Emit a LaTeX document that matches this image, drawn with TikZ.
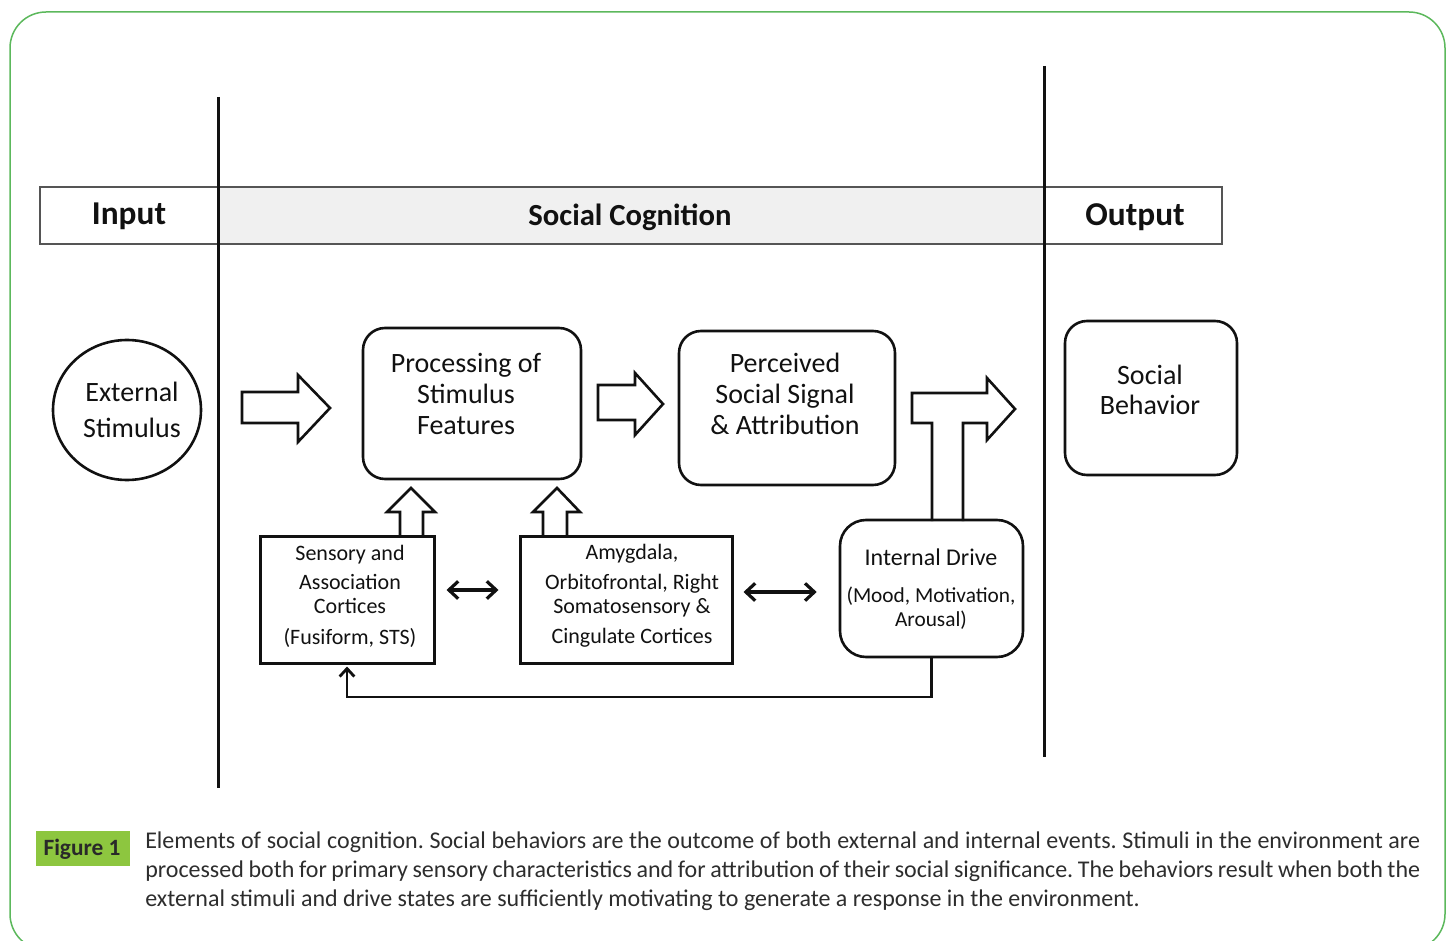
\documentclass[tikz,border=0pt]{standalone}
\usepackage{fontspec}
\setmainfont{Carlito}
\usetikzlibrary{arrows.meta,shapes.geometric,calc}
\newdimen\pxu \pxu=0.75pt
\definecolor{ink}{RGB}{17,17,17}
\definecolor{bordergreen}{RGB}{92,184,92}
\definecolor{figgreen}{RGB}{141,198,63}
\definecolor{headgray}{RGB}{240,240,240}
\definecolor{captext}{RGB}{45,45,45}
\definecolor{bandline}{RGB}{85,85,85}
\frenchspacing
\begin{document}
\begin{tikzpicture}[x=0.75pt,y=-0.75pt,
  rbox/.style={draw=ink, line width=2.6\pxu, rounded corners=22\pxu, inner sep=0pt},
  sbox/.style={draw=ink, line width=3\pxu, inner sep=0pt},
  txt/.style={align=center, font=\fontsize{21}{23}\selectfont, text=ink, inner sep=0pt},
  stxt/.style={align=center, font=\fontsize{16.5}{18}\selectfont, text=ink, inner sep=0pt},
  barrow/.style={draw=ink, line width=2.6\pxu, fill=white, line join=miter},
  oarrow/.style={draw=ink, line width=2.6\pxu, line join=miter},
  darrow/.style={ink, line width=3.2\pxu, {Straight Barb[length=7pt,width=13pt]}-{Straight Barb[length=7pt,width=13pt]}},
  fbarrow/.style={ink, line width=2.8\pxu, -{Straight Barb[length=6pt,width=11pt]}},
  vline/.style={ink, line width=3\pxu},
  hdr/.style={font=\fontsize{23}{25}\selectfont\bfseries, text=ink, inner sep=0pt},
  hdrb/.style={font=\fontsize{25}{27}\selectfont\bfseries, text=ink, inner sep=0pt},
  captxt/.style={font=\fontsize{18}{21}\selectfont, text=captext, inner sep=0pt, anchor=west}
]
\useasboundingbox (0,0) rectangle (1449,941);
\clip (0,0) rectangle (1449,941);
% outer frame
\draw[draw=bordergreen, line width=1.5\pxu, rounded corners=36\pxu] (10,12) rectangle (1445,950);

% header band
\fill[headgray] (218,187) rectangle (1044,244);
\draw[bandline, line width=1.6\pxu] (40,187) rectangle (1222,244);
\node[hdrb] (hin) at (129,216) {Input};
\node[hdr] (hsc) at (630,217) {Social Cognition};
\node[hdrb] (hout) at (1135,217) {Output};

% vertical separators
\coordinate (v1t) at (218,97);
\coordinate (v1b) at (218,788);
\coordinate (v2t) at (1044,66);
\coordinate (v2b) at (1044,757);
\draw[vline] (v1t) -- (v1b);
\draw[vline] (v2t) -- (v2b);

% external stimulus
\node[draw=ink, line width=2.6\pxu, ellipse, minimum width=148\pxu, minimum height=140\pxu, inner sep=0pt] (ext) at (127,410) {};
\node[align=center, font=\fontsize{21}{27}\selectfont, text=ink, inner sep=0pt] (extt) at (132,410) {External\\Stimulus};

% processing
\node[rbox, minimum width=218\pxu, minimum height=151\pxu] (proc) at (472,403.5) {};
\node[txt] (proct) at (466,394) {Processing of\\Stimulus\\Features};

% perceived
\node[rbox, minimum width=216\pxu, minimum height=154\pxu] (perc) at (787,408) {};
\node[txt] (perct) at (785,394) {Perceived\\Social Signal\\\& Attribution};

% social behavior
\node[rbox, minimum width=172\pxu, minimum height=154\pxu] (beh) at (1151,398) {};
\node[txt] (beht) at (1150,390) {Social\\Behavior};

% sensory
\node[sbox, minimum width=174\pxu, minimum height=127\pxu] (sens) at (347,599.5) {};
\node[stxt] (senst) at (350,596) {Sensory and\\[4pt]Association\\Cortices\\[5pt](Fusiform, STS)};

% amygdala
\node[sbox, minimum width=212\pxu, minimum height=127\pxu] (amy) at (626,599.5) {};
\node[stxt] (amyt) at (632,596) {Amygdala,\\[4pt]Orbitofrontal, Right\\Somatosensory \&\\[5pt]Cingulate Cortices};

% internal drive
\node[rbox, rounded corners=26\pxu, minimum width=183\pxu, minimum height=137\pxu] (int) at (931.5,588.5) {};
\node[align=center, font=\fontsize{16}{18}\selectfont, text=ink, inner sep=0pt] (intt) at (931,589) {{\fontsize{18}{18}\selectfont Internal Drive}\\[10pt](Mood, Motivation,\\Arousal)};

% block arrows
\draw[barrow] (242,392) -- (298,392) -- (298,375) -- (330,408) -- (298,442) -- (298,423) -- (242,423) -- cycle;
\draw[barrow] (598,385) -- (635,385) -- (635,373) -- (663,404) -- (635,435) -- (635,420) -- (598,420) -- cycle;
\draw[oarrow] (932,521) -- (932,423) -- (912,423) -- (912,393) -- (987,393) -- (987,378) -- (1015,409) -- (987,440) -- (987,423) -- (963,423) -- (963,521);
\draw[oarrow] (400,536) -- (400,512) -- (387,512) -- (411,488) -- (435,512) -- (423,512) -- (423,536);
\draw[oarrow] (543,536) -- (543,512) -- (533,512) -- (557,488) -- (580,512) -- (567,512) -- (567,536);

% double arrows
\draw[darrow] ($(sens.east)+(11,-9.5)$) -- ($(amy.west)+(-20,-9.5)$);
\draw[darrow] ($(amy.east)+(10,-7.5)$) -- ($(int.west)+(-22,3.5)$);

% feedback
\coordinate (fb) at (0,697);
\draw[fbarrow] (int.south) -- (int.south |- fb) -- (sens.south |- fb) -- ($(sens.south)+(0,2)$);

% caption
\fill[figgreen] (36,831) rectangle (130,866);
\node[font=\fontsize{17.5}{19}\selectfont\bfseries, text=ink!90, inner sep=0pt] (figl) at (82,849) {Figure 1};
\node[captxt] (c1) at (145,842) {\makebox[1275\pxu][s]{Elements of social cognition. Social behaviors are the outcome of both external and internal events. Stimuli in the environment are}};
\node[captxt] (c2) at (145,871) {\makebox[1275\pxu][s]{processed both for primary sensory characteristics and for attribution of their social significance. The behaviors result when both the}};
\node[captxt] (c3) at (145,900) {external stimuli and drive states are sufficiently motivating to generate a response in the environment.};
\end{tikzpicture}
\end{document}
